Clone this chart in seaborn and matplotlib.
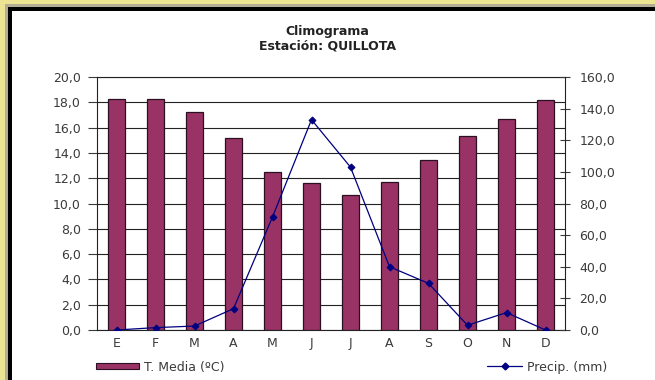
import numpy as np
import pandas as pd
import seaborn as sns
import matplotlib.pyplot as plt
from matplotlib.patches import Rectangle, Patch
from matplotlib.lines import Line2D

meses = ['E', 'F', 'M', 'A', 'M', 'J', 'J', 'A', 'S', 'O', 'N', 'D']
temp_media = [18.3, 18.3, 17.2, 15.2, 12.5, 11.6, 10.7, 11.7, 13.4, 15.3, 16.7, 18.2]
precip = [0.0, 1.5, 2.5, 13.5, 71.5, 133.0, 103.0, 40.0, 29.5, 3.0, 11.0, 0.0]

df = pd.DataFrame({'idx': np.arange(len(meses)), 'temp': temp_media, 'precip': precip})

sns.set_style('white')
plt.rcParams['font.family'] = ['DejaVu Sans']

fig = plt.figure(figsize=(6.55, 3.8), dpi=100)
fig.patch.set_facecolor('white')

# marco amarillo / gris / negro arriba y a la izquierda
W, H = 655, 380
fig.patches.append(Rectangle((0, 0), 1, 1, transform=fig.transFigure, facecolor='#ece493',
                             edgecolor='none', zorder=-4))
fig.patches.append(Rectangle((5 / W, 0), 1, 1 - 4 / H, transform=fig.transFigure,
                             facecolor='#b3ad95', edgecolor='none', zorder=-3))
fig.patches.append(Rectangle((8 / W, 0), 1, 1 - 7 / H, transform=fig.transFigure,
                             facecolor='black', edgecolor='none', zorder=-2))
fig.patches.append(Rectangle((12 / W, 0), 1, 1 - 11 / H, transform=fig.transFigure,
                             facecolor='white', edgecolor='none', zorder=-1))

ax = fig.add_axes([97 / W, 50 / H, 468 / W, 253 / H])
ax.set_facecolor('none')
ax.set_zorder(1)

sns.barplot(data=df, x='idx', y='temp', color='#993366', width=0.44, edgecolor='#2a1020',
            linewidth=0.9, saturation=1, ax=ax, zorder=3)
ax.set_ylim(0, 20)
ax.set_xlim(-0.5, 11.5)
ax.set_yticks(np.arange(0, 20.1, 2))
ax.set_yticklabels([f'{v:.1f}'.replace('.', ',') for v in np.arange(0, 20.1, 2)])
ax.yaxis.grid(True, color='#222222', linewidth=0.8, zorder=0)
ax.set_axisbelow(True)
ax.set_xticks(np.arange(12))
ax.set_xticklabels(meses)
ax.set_xticks(np.arange(-0.5, 12, 1), minor=True)
ax.tick_params(axis='x', which='major', length=0, pad=5, labelsize=9, colors='#3a3a3a')
ax.tick_params(axis='x', which='minor', length=6, width=0.8, direction='inout', color='#222222')
ax.tick_params(axis='y', length=6.5, width=0.8, direction='out', pad=5, labelsize=9,
               colors='#3a3a3a', left=True)
ax.set_xlabel('')
ax.set_ylabel('')
for s in ['left', 'bottom', 'top']:
    ax.spines[s].set_color('#222222')
    ax.spines[s].set_linewidth(0.8)
ax.spines['right'].set_visible(False)

ax2 = ax.twinx()
sns.lineplot(data=df, x='idx', y='precip', color='#000080', linewidth=0.9, marker='D',
             markersize=3.5, markeredgecolor='#000080', ax=ax2, zorder=5)
ax2.set_ylim(0, 160)
ax2.set_yticks(np.arange(0, 160.1, 20))
ax2.set_yticklabels([f'{v:.1f}'.replace('.', ',') for v in np.arange(0, 160.1, 20)])
ax2.tick_params(axis='y', length=7, width=0.8, direction='inout', pad=7, labelsize=9,
                colors='#3a3a3a', right=True)
ax2.set_ylabel('')
ax2.set_xlabel('')
for s in ['left', 'bottom', 'top']:
    ax2.spines[s].set_visible(False)
ax2.spines['right'].set_color('#222222')
ax2.spines['right'].set_linewidth(0.8)
ax2.set_xlim(-0.5, 11.5)

fig.text(0.5, 1 - 32 / H, 'Climograma', ha='center', va='center', fontsize=9,
         fontweight='bold', color='#222222')
fig.text(0.5, 1 - 46 / H, 'Estación: QUILLOTA', ha='center', va='center', fontsize=9,
         fontweight='bold', color='#222222')

leg1 = fig.legend(handles=[Patch(facecolor='#993366', edgecolor='#2a1020', linewidth=0.8)],
                  labels=['T. Media (ºC)'], loc='center left', bbox_to_anchor=(96 / W, 13 / H),
                  frameon=False, fontsize=9, handlelength=3.4, handleheight=0.45,
                  handletextpad=0.4, borderpad=0, borderaxespad=0)
for t in leg1.get_texts():
    t.set_color('#3a3a3a')
leg2 = fig.legend(handles=[Line2D([], [], color='#000080', linewidth=0.9, marker='D',
                                  markersize=3.5)],
                  labels=['Precip. (mm)'], loc='center left', bbox_to_anchor=(487 / W, 13 / H),
                  frameon=False, fontsize=9, handlelength=2.8, handletextpad=0.4,
                  borderpad=0, borderaxespad=0)
for t in leg2.get_texts():
    t.set_color('#3a3a3a')

fig.savefig('out.png', dpi=100)
